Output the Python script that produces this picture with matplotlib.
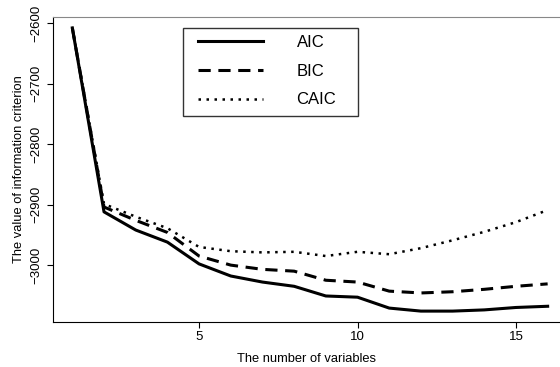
import numpy as np
import matplotlib
matplotlib.use("Agg")
import matplotlib.pyplot as plt
from matplotlib.patches import Rectangle

plt.rcParams['font.family'] = ['Liberation Sans', 'DejaVu Sans']

# number of variables in the model
n_vars = list(range(1, 17))

# information criteria
aic = [-2608, -2912, -2942, -2962, -2998, -3018, -3028, -3035,
       -3051, -3053, -3071, -3076, -3076, -3074, -3070, -3068]
bic = [-2608, -2904, -2926, -2946, -2985, -3000, -3007, -3010,
       -3025, -3028, -3043, -3046, -3044, -3040, -3035, -3031]
caic = [-2608, -2899, -2920, -2939, -2970, -2977, -2979, -2978,
        -2985, -2978, -2982, -2972, -2959, -2945, -2929, -2909]

W, H = 560, 367
fig = plt.figure(figsize=(5.6, 3.67), dpi=100)
ax = fig.add_axes([53/W, 1 - 322/H, 1 - 53/W, 305/H])

ax.plot(n_vars, aic, color='black', lw=2.2, ls='-', label='AIC')
ax.plot(n_vars, bic, color='black', lw=2.2, ls=(0, (4, 2.5)), label='BIC')
ax.plot(n_vars, caic, color='black', lw=1.8, ls=(0, (1, 2.2)), label='CAIC')

ax.set_xlim(0.39, 16.39)
ax.set_ylim(-3094, -2590)
ax.set_xticks([5, 10, 15])
ax.set_yticks([-2600, -2700, -2800, -2900, -3000])
ax.tick_params(axis='both', labelsize=9.5, length=4.5, direction='out')
ax.tick_params(axis='x', pad=2)
ax.tick_params(axis='y', pad=3)
for lab in ax.get_yticklabels():
    lab.set_rotation(90)
    lab.set_va('center')

ax.spines['right'].set_visible(False)
ax.spines['top'].set_color('#888888')

ax.set_xlabel('The number of variables', fontsize=9.3, labelpad=7)
ax.set_ylabel('The value of information criterion', fontsize=9.3, labelpad=4)

leg = ax.legend(loc='upper left', bbox_to_anchor=(136/507, 1 - 9/305),
                fontsize=12, frameon=False,
                handlelength=3.9, handletextpad=2.0, borderpad=0.55,
                labelspacing=0.82, borderaxespad=0)

# legend box drawn in figure pixels to match the reference frame
fig.patches.append(Rectangle((183/W, 1 - 116/H), 175/W, 88/H,
                             transform=fig.transFigure, fill=False,
                             edgecolor='#333333', lw=1.0))

fig.savefig('out.png', dpi=100)
